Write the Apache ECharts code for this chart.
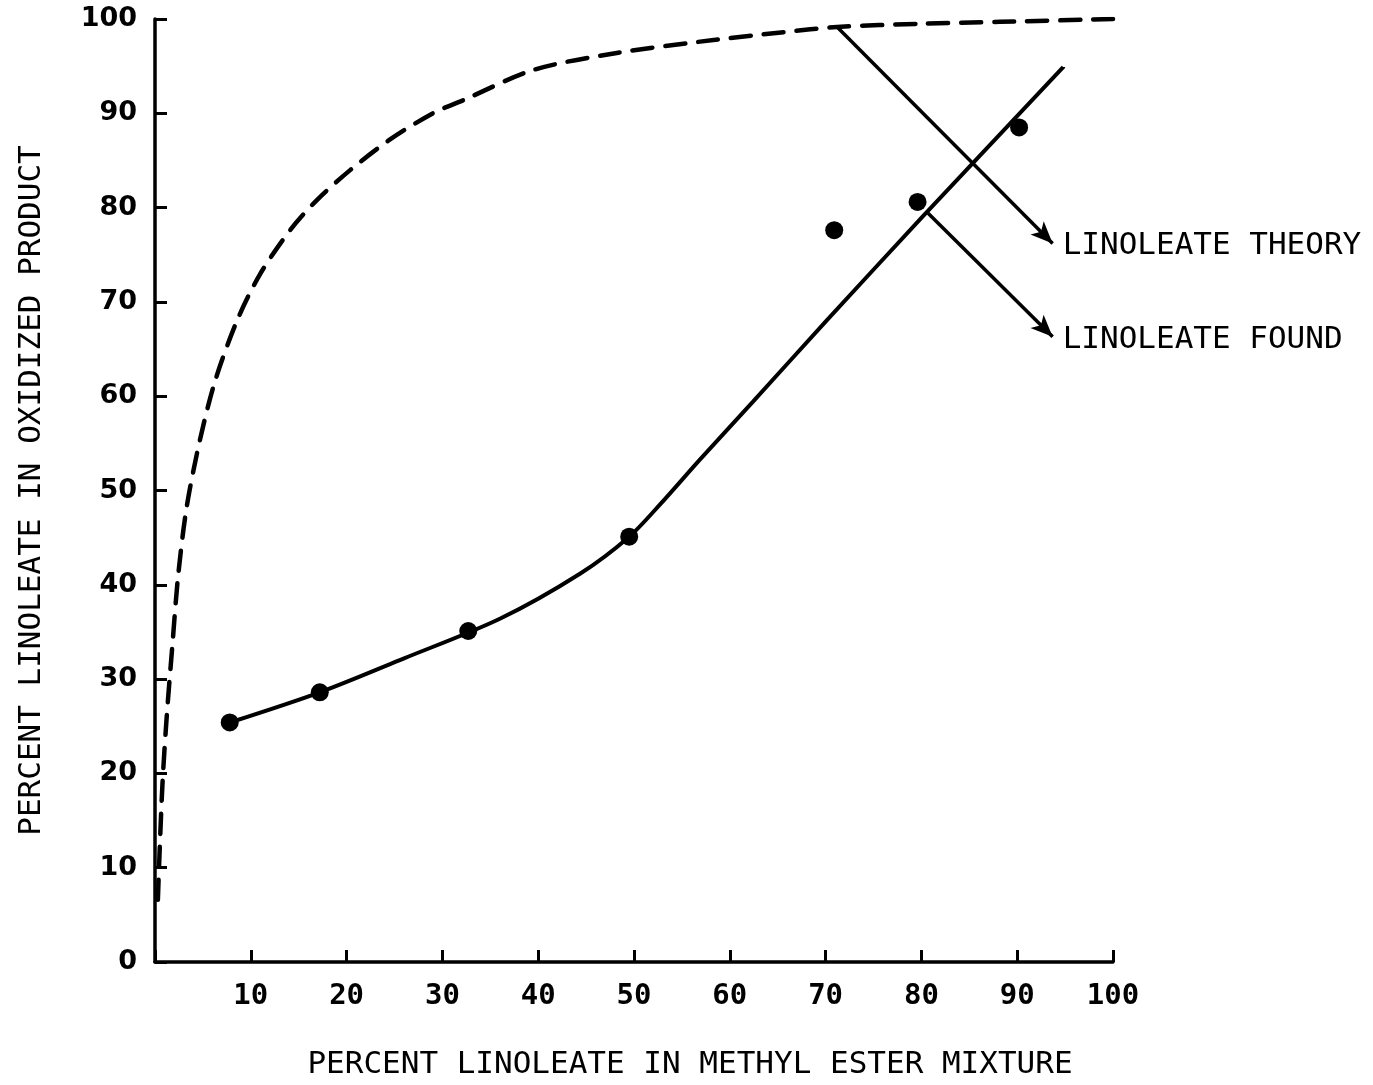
<!DOCTYPE html>
<html>
<head>
<meta charset="utf-8">
<script src="https://cdn.jsdelivr.net/npm/echarts@6/dist/echarts.min.js"></script>
<style>html,body{margin:0;padding:0;background:#fff;}#c{width:1373px;height:1085px;}</style>
</head>
<body>
<div id="c"></div>
<script>
// X ticks / Y ticks
const xTicks = [0, 10, 20, 30, 40, 50, 60, 70, 80, 90, 100];
const yTicks = [0, 10, 20, 30, 40, 50, 60, 70, 80, 90, 100];

// Linoleate found: measured points
const foundX = [7.8, 17.2, 32.7, 49.5, 70.9, 79.6, 90.2];
const foundY = [25.4, 28.6, 35.1, 45.1, 77.6, 80.6, 88.5];

// Linoleate found: drawn smooth curve
const curveX = [7.8, 17.2, 26, 36, 44.4, 49.5, 52.7, 56.9, 62.4, 70, 80, 94.8];
const curveY = [25.4, 28.6, 32.2, 36.4, 41.2, 45.1, 48.5, 53.3, 59.4, 67.9, 78.9, 94.9];

// Linoleate theory: dashed curve
const theoryX = [0.3, 0.5, 0.8, 1.25, 1.8, 2.4, 3.3, 4.7, 6.3, 8.6, 11, 14.1, 16.9, 20.4, 24.5, 29, 32.2, 39.5, 48.2, 56.9, 65.6, 71.2, 80, 88.2, 100];
const theoryY = [6.6, 12.2, 19.3, 26.4, 33.4, 40.8, 48.2, 55.4, 61.7, 68.1, 73, 77.6, 80.8, 84, 87.2, 90, 91.4, 94.6, 96.4, 97.6, 98.6, 99.15, 99.5, 99.7, 100];

// Annotation arrows (data coords: start, end) and labels
const labels = ["LINOLEATE THEORY", "LINOLEATE FOUND"];
const arrowStart = [[71.2, 99.15], [80.7, 79.4]];
const arrowEnd = [[93.7, 76.2], [93.7, 66.3]];

const xTitle = "PERCENT LINOLEATE IN METHYL ESTER MIXTURE";
const yTitle = "PERCENT LINOLEATE IN OXIDIZED PRODUCT";

const zip = (a, b) => a.map((v, i) => [v, b[i]]);
const FONT = "DejaVu Sans Mono";

const chart = echarts.init(document.getElementById('c'), null, {renderer: 'canvas'});
const option = {
  backgroundColor: '#fff',
  animation: false,
  grid: {left: 155, top: 19, right: 260, bottom: 123, containLabel: false},
  xAxis: {
    type: 'value', min: xTicks[0], max: xTicks[xTicks.length - 1], interval: 10,
    splitLine: {show: false},
    axisLine: {onZero: false, lineStyle: {color: '#000', width: 3.5}},
    axisTick: {inside: true, length: 12, lineStyle: {color: '#000', width: 3}},
    axisLabel: {
      margin: 20, color: '#000', fontFamily: FONT, fontWeight: 'bold', fontSize: 29,
      formatter: v => (v === 0 ? '' : String(v))
    },
    name: xTitle, nameLocation: 'middle', nameGap: 87,
    nameTextStyle: {color: '#000', fontFamily: FONT, fontSize: 31, padding: [0, 0, 0, 112]}
  },
  yAxis: {
    type: 'value', min: yTicks[0], max: yTicks[yTicks.length - 1], interval: 10,
    splitLine: {show: false},
    axisLine: {onZero: false, lineStyle: {color: '#000', width: 3.5}},
    axisTick: {inside: true, length: 12, lineStyle: {color: '#000', width: 3}},
    axisLabel: {margin: 18, color: '#000', fontFamily: 'DejaVu Sans', fontWeight: 'bold', fontSize: 27},
    name: yTitle, nameLocation: 'middle', nameGap: 108, nameRotate: 90,
    nameTextStyle: {color: '#000', fontFamily: FONT, fontSize: 31}
  },
  series: [
    {
      type: 'line', data: zip(theoryX, theoryY), smooth: 0.3, showSymbol: false,
      lineStyle: {color: '#000', width: 4.5, type: [20, 13], cap: 'round'}, z: 2
    },
    {
      type: 'line', data: zip(curveX, curveY), smooth: 0.3, showSymbol: false,
      lineStyle: {color: '#000', width: 4}, z: 3,
      markLine: {
        silent: true, symbol: ['none', 'arrow'], symbolSize: [14, 22],
        lineStyle: {color: '#000', width: 3.5, type: 'solid'},
        label: {show: false},
        data: arrowStart.map((s, i) => [{coord: s}, {coord: arrowEnd[i]}])
      }
    },
    {
      type: 'scatter', data: zip(foundX, foundY), symbolSize: 18,
      itemStyle: {color: '#000', opacity: 1}, z: 4
    }
  ]
};
chart.setOption(option);

const g = labels.map((t, i) => {
  const p = chart.convertToPixel({gridIndex: 0}, arrowEnd[i]);
  return {
    type: 'text', x: p[0] + 10, y: p[1] + 3,
    style: {text: t, fill: '#000', font: '31px "DejaVu Sans Mono"', textAlign: 'left', textVerticalAlign: 'middle'}
  };
});
chart.setOption({graphic: g});
</script>
</body>
</html>
